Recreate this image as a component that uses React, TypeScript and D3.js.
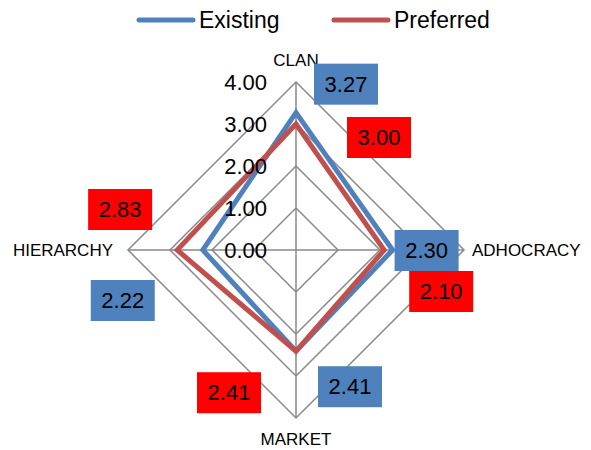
import React from "react";
import * as d3 from "d3";

const categories = ["CLAN", "ADHOCRACY", "MARKET", "HIERARCHY"];
const existing = [3.27, 2.3, 2.41, 2.22];
const preferred = [3.0, 2.1, 2.41, 2.83];
const tickValues = [0, 1, 2, 3, 4];
const seriesNames = ["Existing", "Preferred"];

const W = 591;
const H = 450;
const CX = 296;
const CY = 250;
const R = 168;
const FONT = "'Liberation Sans', Arial, sans-serif";

const lineColors = ["#4F81BD", "#C0504D"];
const boxColors = ["#4F81BD", "#FF0000"];
// label box offsets (box center relative to data point), per series per axis
const labelOffsets = [
  [[50, -29], [34, 0], [54, 35], [-80, 50]],
  [[83, 13], [57, 41], [-67, 41], [-57, -41]],
];

export default function App() {
  const r = d3.scaleLinear().domain([0, 4]).range([0, R]);
  const angle = (i: number) => (i * 2 * Math.PI) / categories.length;
  const pt = (i: number, v: number): [number, number] => [
    CX + r(v) * Math.sin(angle(i)),
    CY - r(v) * Math.cos(angle(i)),
  ];
  const line = d3.line().curve(d3.curveLinearClosed);
  const series = [existing, preferred];

  return (
    <svg width={W} height={H} style={{ position: "absolute", left: 0, top: 0, background: "#fff" }}>
      {/* grid */}
      {tickValues.slice(1).map((t) => (
        <path
          key={t}
          d={line(categories.map((_, i) => pt(i, t))) || ""}
          fill="none"
          stroke="#898989"
          strokeWidth={1.5}
        />
      ))}
      {categories.map((_, i) => {
        const [x, y] = pt(i, 4);
        return <line key={i} x1={CX} y1={CY} x2={x} y2={y} stroke="#898989" strokeWidth={1.5} />;
      })}
      {/* series */}
      {series.map((s, k) => (
        <path
          key={k}
          d={line(s.map((v, i) => pt(i, v))) || ""}
          fill="none"
          stroke={lineColors[k]}
          strokeWidth={5}
          strokeLinejoin="miter"
        />
      ))}
      {/* tick labels */}
      {tickValues.map((t) => (
        <text
          key={t}
          x={CX - 29}
          y={CY - r(t)}
          dy="0.36em"
          textAnchor="end"
          fontFamily={FONT}
          fontSize={22}
          fill="#000"
        >
          {t.toFixed(2)}
        </text>
      ))}
      {/* category labels */}
      <text x={CX} y={CY - R - 16} textAnchor="middle" fontFamily={FONT} fontSize={17}>
        {categories[0]}
      </text>
      <text x={CX + R + 8} y={CY} dy="0.36em" textAnchor="start" fontFamily={FONT} fontSize={17}>
        {categories[1]}
      </text>
      <text x={CX} y={CY + R + 27} textAnchor="middle" fontFamily={FONT} fontSize={17}>
        {categories[2]}
      </text>
      <text x={CX - R - 15} y={CY} dy="0.36em" textAnchor="end" fontFamily={FONT} fontSize={17}>
        {categories[3]}
      </text>
      {/* data labels */}
      {series.map((s, k) =>
        s.map((v, i) => {
          const [x, y] = pt(i, v);
          const [ox, oy] = labelOffsets[k][i];
          const bx = x + ox;
          const by = y + oy;
          return (
            <g key={`${k}-${i}`}>
              <rect x={bx - 32} y={by - 20} width={64} height={41} fill={boxColors[k]} />
              <text
                x={bx}
                y={by}
                dy="0.36em"
                textAnchor="middle"
                fontFamily={FONT}
                fontSize={22}
                fill="#000"
              >
                {v.toFixed(2)}
              </text>
            </g>
          );
        })
      )}
      {/* legend */}
      {seriesNames.map((n, k) => {
        const x0 = 139 + k * 195;
        return (
          <g key={n}>
            <line x1={x0} y1={20} x2={x0 + 54} y2={20} stroke={lineColors[k]} strokeWidth={5} strokeLinecap="round" />
            <text x={x0 + 60} y={20} dy="0.36em" fontFamily={FONT} fontSize={23} fill="#000">
              {n}
            </text>
          </g>
        );
      })}
    </svg>
  );
}
